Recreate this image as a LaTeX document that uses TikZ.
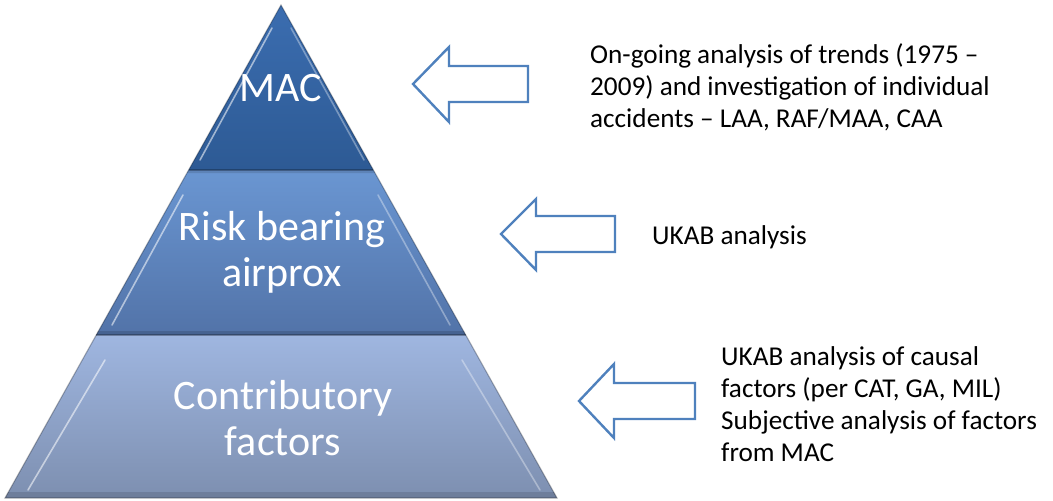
\documentclass[tikz,border=0pt]{standalone}
\usepackage{fontspec}
\setmainfont{Carlito}
\usetikzlibrary{calc}
\definecolor{arrowblue}{HTML}{4F81BD}
\definecolor{lowtop}{HTML}{9FB6E0}
\definecolor{lowbot}{HTML}{7D8FB0}
\definecolor{midtop}{HTML}{6A96D2}
\definecolor{midbot}{HTML}{5273A8}
\definecolor{uptop}{HTML}{3B6DB0}
\definecolor{upbot}{HTML}{2D5A94}
\tikzset{
  layertext/.style={text=white, align=center, font=\fontsize{42}{46}\selectfont, inner sep=0pt},
  notetext/.style={text=black, align=left, anchor=west, font=\fontsize{27.2}{32.2}\selectfont, inner sep=0pt},
  hollowarrow/.style={draw=arrowblue, line width=2.4pt, fill=white, line join=miter},
  highlight/.style={draw=white, opacity=0.55, line width=1.6pt, line cap=round},
  bandedge/.style={draw=black, opacity=0.25, line width=1.2pt}
}
\begin{document}
\begin{tikzpicture}[x=1pt,y=-1pt]
\useasboundingbox (0,0) rectangle (1053,501);

% pyramid corners and band boundaries
\coordinate (apex) at (281,5);
\coordinate (bl) at (5,498);
\coordinate (br) at (557,498);
\coordinate (l1) at (188.6,170);
\coordinate (r1) at (373.4,170);
\coordinate (l2) at (96.2,335);
\coordinate (r2) at (465.8,335);

% bottom band
\shade[top color=lowtop, bottom color=lowbot]
  (l2) -- (r2) -- (br) -- (bl) -- cycle;
% middle band
\shade[top color=midtop, bottom color=midbot]
  (l1) -- (r1) -- (r2) -- (l2) -- cycle;
% top band
\shade[top color=uptop, bottom color=upbot]
  (apex) -- (r1) -- (l1) -- cycle;

% bevel: darker lower rims of each band
\fill[black, opacity=0.12] (l1) -- (r1) -- ($(r1)+(1.7,3)$) -- ($(l1)+(-1.7,3)$) -- cycle;
\fill[black, opacity=0.14] ($(l2)+(1.7,-4)$) -- ($(r2)+(-1.7,-4)$) -- (r2) -- (l2) -- cycle;
\fill[black, opacity=0.12] ($(bl)+(3,-6)$) -- ($(br)+(-3,-6)$) -- (br) -- (bl) -- cycle;

% bevel: light inner lines along the left edges
\draw[highlight] (272,28) -- (200,160);
\draw[highlight] (183,195) -- (112,325);
\draw[highlight] (105,360) -- (28,490);
% bevel: light inner lines along the right edges
\draw[highlight, opacity=0.35] (291,28) -- (364,160);
\draw[highlight, opacity=0.35] (378,195) -- (450,325);
\draw[highlight, opacity=0.35] (462,360) -- (540,490);

% outline of the pyramid
\draw[bandedge] (apex) -- (br) -- (bl) -- cycle;
\draw[bandedge] (l1) -- (r1);
\draw[bandedge] (l2) -- (r2);

% layer labels
\node[layertext] (mac) at (281,88) {MAC};
\node[layertext] (risk) at (282,252) {Risk bearing\\airprox};
\node[layertext] (contrib) at (283,418) {Contributory\\factors};

% explanatory notes
\node[notetext] (note1) at (590,87) {On-going analysis of trends (1975 –\\2009) and investigation of individual\\accidents – LAA, RAF/MAA, CAA};
\node[notetext] (note2) at (652,237) {UKAB analysis};
\node[notetext] (note3) at (721,404) {UKAB analysis of causal\\factors (per CAT, GA, MIL)\\Subjective analysis of factors\\from MAC};

% hollow arrows pointing from the notes to the layers
\draw[hollowarrow] (413,84) -- (449,47) -- (449,66) -- (528,66) -- (528,102) -- (449,102) -- (449,122) -- cycle;
\draw[hollowarrow] (501,234) -- (536,199) -- (536,216) -- (615,216) -- (615,252) -- (536,252) -- (536,270) -- cycle;
\draw[hollowarrow] (579,401) -- (614,364) -- (614,383) -- (695,383) -- (695,419) -- (614,419) -- (614,438) -- cycle;
\end{tikzpicture}
\end{document}
